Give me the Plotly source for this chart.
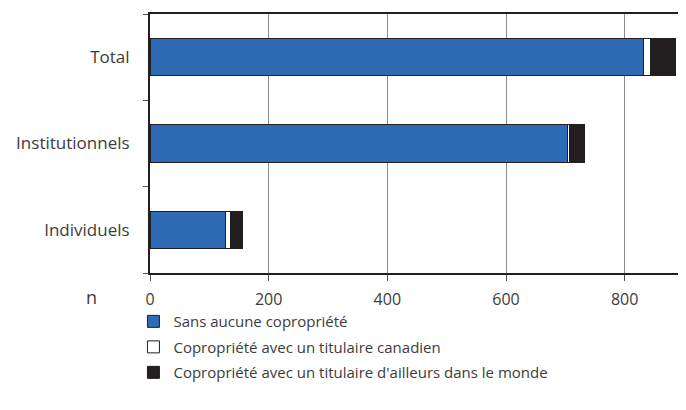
import plotly.graph_objects as go

categories = ["Individuels", "Institutionnels", "Total"]
sans_copro = [127, 704, 831]
copro_canada = [8, 3, 12]
copro_ailleurs = [21, 26, 42]

series_names = [
    "Sans aucune copropriété",
    "Copropriété avec un titulaire canadien",
    "Copropriété avec un titulaire d'ailleurs dans le monde",
]
series_colors = ["#2e6bb5", "#ffffff", "#231f20"]
x_ticks = [0, 200, 400, 600, 800]

text_color = "#3c3c3c"
edge = "#231f20"
font_name = "Open Sans"

fig = go.Figure()
for i, (vals, name, col) in enumerate(zip([sans_copro, copro_canada, copro_ailleurs],
                                            series_names, series_colors)):
    fig.add_trace(go.Bar(
        y=categories, x=vals, orientation="h", name=name,
        legendgroup=str(i),
        marker=dict(color=col, line=dict(color=edge, width=1)),
    ))

# page body has an 8px margin, so the figure is a bit smaller than the window
fig.update_layout(
    width=678, height=402,
    margin=dict(l=142, r=2, t=6, b=137, autoexpand=False),
    barmode="stack",
    bargap=0.57,
    plot_bgcolor="white",
    paper_bgcolor="white",
    font=dict(family=font_name, size=17, color=text_color),
    legend=dict(
        x=-0.031, y=-0.124, xanchor="left", yanchor="top",
        traceorder="grouped", tracegroupgap=3,
        font=dict(size=15, color=text_color),
        bgcolor="rgba(0,0,0,0)",
    ),
    annotations=[dict(
        text="n", xref="paper", yref="paper", x=-0.109, y=-0.093,
        showarrow=False, font=dict(size=18, color=text_color),
        xanchor="center", yanchor="middle",
    )],
)

fig.update_xaxes(
    range=[0, 900], tickvals=x_ticks,
    showgrid=True, gridcolor="#8c8c8c", gridwidth=1,
    showline=True, linecolor=edge, linewidth=2, mirror=True,
    ticks="outside", ticklen=6, tickcolor="#555",
    ticklabelstandoff=5,
    tickfont=dict(size=16), zeroline=False, automargin=False,
)
fig.update_yaxes(
    categoryorder="array", categoryarray=categories,
    showline=True, linecolor=edge, linewidth=2, mirror=True,
    ticks="outside", tickson="boundaries", ticklen=5, tickcolor="#555",
    ticklabelstandoff=15, automargin=False,
    showgrid=False,
)

fig.write_html("out.html")
